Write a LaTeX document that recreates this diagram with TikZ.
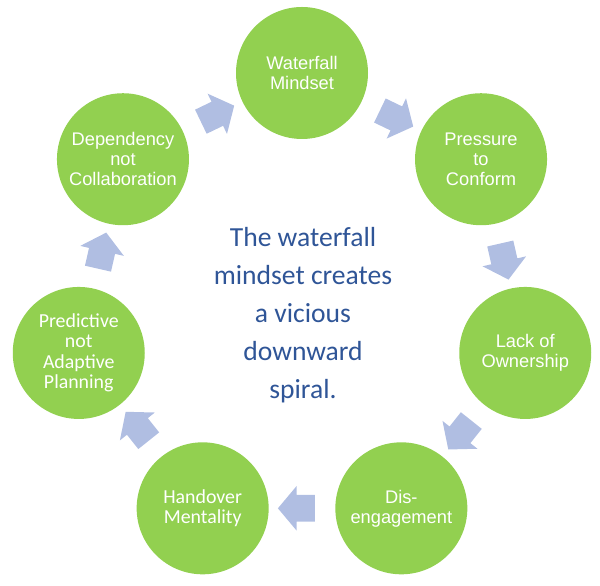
\documentclass[tikz,border=0pt]{standalone}
\usepackage{fontspec}
\setmainfont{Liberation Sans}
\newfontfamily\calibri{Carlito}
\usepackage{xcolor}
\usetikzlibrary{
  shapes.arrows,
  positioning,
  calc
}
\definecolor{SpiralGreen}{RGB}{146,208,80}
\definecolor{ArrowBlue}{RGB}{176,190,226}
\definecolor{TitleBlue}{RGB}{47,85,151}
\tikzset{
  %%── 圆形节点 ──────────────────────────────────────────────
  stage/.style = {
    circle, fill = SpiralGreen, draw = none,
    minimum size = 2.64cm, inner sep = 0pt,
    align = center, text = white,
    font = \fontsize{10.4}{11.4}\selectfont
  },
  stageC/.style = {
    stage, font = \calibri\fontsize{11.3}{11.7}\selectfont
  },
  %%── 块状箭头 ──────────────────────────────────────────────
  blockarr/.style = {
    single arrow, fill = ArrowBlue, draw = none,
    minimum height = 0.74cm,
    inner xsep = 0pt, inner ysep = 0.26cm,
    single arrow head extend = 0.18cm,
    single arrow tip angle = 100
  },
  %%── 中心文字 ──────────────────────────────────────────────
  centre/.style = {
    align = center, text = TitleBlue,
    font = \calibri\fontsize{15.7}{21.6}\selectfont
  },
}
\begin{document}
\begin{tikzpicture}

  \useasboundingbox (0,0) rectangle (12,11.72);
  \coordinate (mid) at (6.04,5.68);

  %% 七个阶段
  \node[stage]  (waterfall)  at ($(mid)+(90:4.58)$)      {Waterfall\\Mindset};
  \node[stage]  (pressure)   at ($(mid)+(38.57:4.58)$)   {Pressure\\to\\Conform};
  \node[stage]  (ownership)  at ($(mid)+(-12.86:4.58)$)  {Lack of\\Ownership};
  \node[stage]  (disengage)  at ($(mid)+(-64.29:4.58)$)  {Dis-\\engagement};
  \node[stageC] (handover)   at ($(mid)+(-115.71:4.58)$) {Handover\\Mentality};
  \node[stageC] (predictive) at ($(mid)+(-167.14:4.58)$) {Predictive\\not\\Adaptive\\Planning};
  \node[stage]  (dependency) at ($(mid)+(141.43:4.58)$)  {Dependency\\not\\Collaboration};

  %% 箭头
  \node[blockarr, rotate=-25.71]  (a1) at ($(waterfall)!0.5!(pressure)$)    {};
  \node[blockarr, rotate=-77.14]  (a2) at ($(pressure)!0.5!(ownership)$)    {};
  \node[blockarr, rotate=-128.57] (a3) at ($(ownership)!0.5!(disengage)$)   {};
  \node[blockarr, rotate=180]     (a4) at ($(disengage)!0.5!(handover)$)    {};
  \node[blockarr, rotate=128.57]  (a5) at ($(handover)!0.5!(predictive)$)   {};
  \node[blockarr, rotate=77.14]   (a6) at ($(predictive)!0.5!(dependency)$) {};
  \node[blockarr, rotate=25.71]   (a7) at ($(dependency)!0.5!(waterfall)$)  {};

  \node[centre] (msg) at ($(mid)+(0.02,-0.26)$)
    {The waterfall\\mindset creates\\a vicious\\downward\\spiral.};

\end{tikzpicture}
\end{document}
